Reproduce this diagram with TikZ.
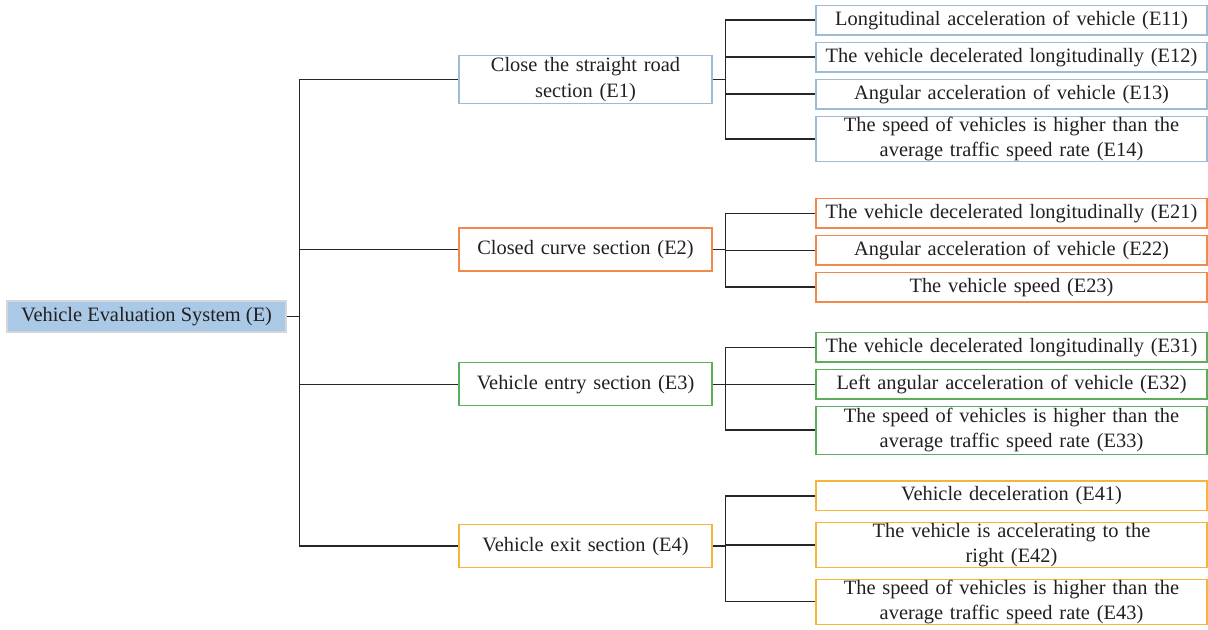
\documentclass[tikz,border=0pt]{standalone}
\usepackage{fontspec}
\setmainfont{Liberation Serif}
\usetikzlibrary{positioning}

\definecolor{txt}{HTML}{231F20}
\definecolor{linkc}{HTML}{262626}
\definecolor{rootfill}{HTML}{A9C9E6}
\definecolor{rootline}{HTML}{D3D6DA}
\definecolor{blueline}{HTML}{9DBAD7}
\definecolor{orangeline}{HTML}{F0894A}
\definecolor{greenline}{HTML}{5BAF5B}
\definecolor{yellowline}{HTML}{F6B53A}

\begin{document}
\begin{tikzpicture}[x=0.5pt, y=-0.5pt, font=\fontsize{10.2}{12.6}\selectfont, text=txt,
    root/.style = {draw=rootline, fill=rootfill, line width=0.6pt, inner sep=0pt, minimum width=139.5pt, minimum height=15.5pt},
    main/.style = {draw=#1, line width=0.6pt, inner sep=0pt, text width=126.5pt, align=center, minimum height=21.5pt},
    leaf/.style = {draw=#1, line width=0.6pt, inner sep=0pt, text width=195.5pt, align=center, minimum height=14.75pt},
    link/.style = {draw=linkc, line width=0.75pt}]
    \useasboundingbox (0,0) rectangle (1208,629);

    \node[root] (E) at (146.5,316.5) {Vehicle Evaluation System (E)};

    \node[main=blueline, minimum height=24pt] (E1) at (585.5,79.5) {Close the straight road\\section (E1)};
    \node[main=orangeline] (E2) at (585.5,249.5) {Closed curve section (E2)};
    \node[main=greenline] (E3) at (585.5,384.3) {Vehicle entry section (E3)};
    \node[main=yellowline] (E4) at (585.5,546.2) {Vehicle exit section (E4)};

    \node[leaf=blueline] (E11) at (1011.5,20.2) {Longitudinal acceleration of vehicle (E11)};
    \node[leaf=blueline] (E12) at (1011.5,57.2) {The vehicle decelerated longitudinally (E12)};
    \node[leaf=blueline] (E13) at (1011.5,94.2) {Angular acceleration of vehicle (E13)};
    \node[leaf=blueline, minimum height=22.5pt] (E14) at (1011.5,139.2) {The speed of vehicles is higher than the\\average traffic speed rate (E14)};

    \node[leaf=orangeline] (E21) at (1011.5,213.3) {The vehicle decelerated longitudinally (E21)};
    \node[leaf=orangeline] (E22) at (1011.5,250.3) {Angular acceleration of vehicle (E22)};
    \node[leaf=orangeline] (E23) at (1011.5,287.2) {The vehicle speed (E23)};

    \node[leaf=greenline] (E31) at (1011.5,347.3) {The vehicle decelerated longitudinally (E31)};
    \node[leaf=greenline] (E32) at (1011.5,384.3) {Left angular acceleration of vehicle (E32)};
    \node[leaf=greenline, minimum height=24pt] (E33) at (1011.5,430.2) {The speed of vehicles is higher than the\\average traffic speed rate (E33)};

    \node[leaf=yellowline] (E41) at (1011.5,495.8) {Vehicle deceleration (E41)};
    \node[leaf=yellowline, minimum height=22.7pt] (E42) at (1011.5,545) {The vehicle is accelerating to the\\right (E42)};
    \node[leaf=yellowline, minimum height=22.6pt] (E43) at (1011.5,601.7) {The speed of vehicles is higher than the\\average traffic speed rate (E43)};

    % trunk and group joints
    \coordinate (t0) at ([xshift=6.5pt]E.east);
    \foreach \i in {1,...,4}
        \coordinate (g\i) at ([xshift=6.5pt]E\i.east);

    \draw[link] (E) -- (t0);
    \foreach \i in {1,...,4}
        \draw[link] (t0) |- (E\i.west);

    \foreach \i/\n in {1/4, 2/3, 3/3, 4/3} {
        \draw[link] (E\i) -- (g\i);
        \foreach \j in {1,...,\n}
            \draw[link] (g\i) |- (E\i\j.west);
    }
\end{tikzpicture}
\end{document}
